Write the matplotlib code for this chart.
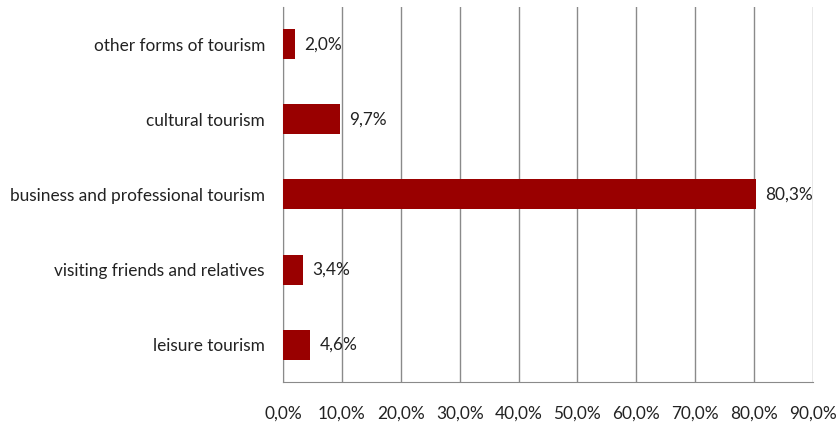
import matplotlib
matplotlib.use("Agg")
import matplotlib.pyplot as plt
import numpy as np

categories = ["leisure tourism", "visiting friends and relatives",
              "business and professional tourism", "cultural tourism",
              "other forms of tourism"]
shares = [4.6, 3.4, 80.3, 9.7, 2.0]
ticks = [0, 10, 20, 30, 40, 50, 60, 70, 80, 90]

plt.rcParams['font.family'] = ['Lato', 'DejaVu Sans']

def pct(v):
    return ("%.1f%%" % v).replace(".", ",")

fig = plt.figure(figsize=(8.39, 4.23), dpi=100)
ax = fig.add_axes([0.3373, 0.0969, 0.6317, 0.8866])

y = np.arange(len(categories))
ax.barh(y, shares, height=0.4, color="#990000", zorder=3)
for yi, v in zip(y, shares):
    ax.text(v + 1.6, yi, pct(v), va="center", ha="left", fontsize=12.4,
            color="#222222", zorder=4)

ax.set_xlim(0, 90)
ax.set_ylim(-0.5, len(categories) - 0.5)
ax.set_xticks(ticks)
ax.set_xticklabels([pct(t) for t in ticks], fontsize=12.4, color="#222222")
ax.set_yticks(y)
ax.set_yticklabels(categories, fontsize=12.4, color="#222222")
ax.tick_params(axis="both", length=0)
ax.tick_params(axis="x", pad=17)
ax.tick_params(axis="y", pad=13)
ax.xaxis.grid(True, color="#8a8a8a", linewidth=1.0, zorder=0)
for side in ["left", "bottom"]:
    ax.spines[side].set_color("#8a8a8a")
ax.spines["top"].set_visible(False)
ax.spines["right"].set_visible(False)

fig.savefig("out.png", dpi=100)
